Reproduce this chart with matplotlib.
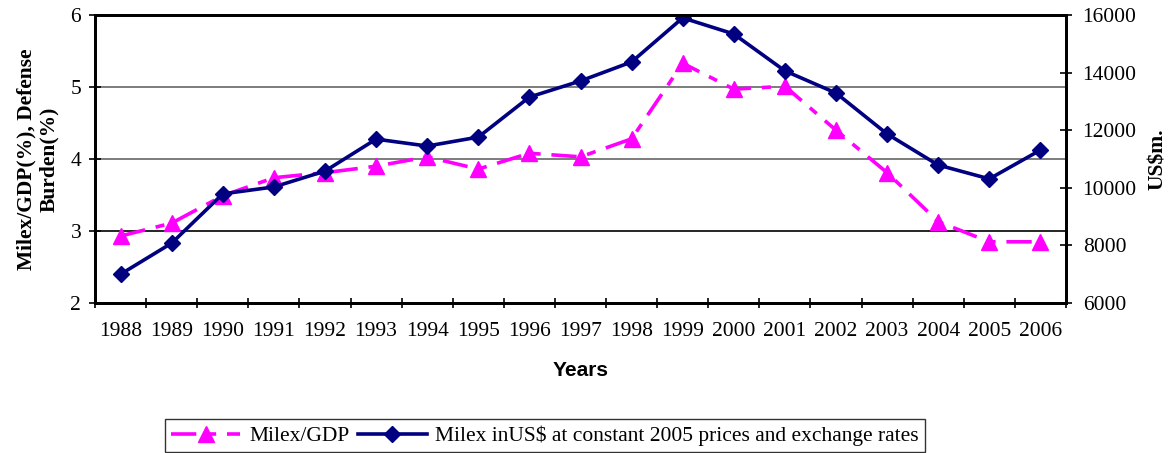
import matplotlib.pyplot as plt
import numpy as np

# Data
years = ['1988', '1989', '1990', '1991', '1992', '1993', '1994', '1995', '1996', '1997',
         '1998', '1999', '2000', '2001', '2002', '2003', '2004', '2005', '2006']
milex_gdp = [2.93, 3.11, 3.49, 3.74, 3.81, 3.90, 4.03, 3.86, 4.08, 4.03,
             4.28, 5.33, 4.97, 5.01, 4.40, 3.81, 3.13, 2.85, 2.85]
milex_usd = [7000, 8080, 9790, 10030, 10580, 11690, 11450, 11760, 13150, 13710,
             14370, 15900, 15340, 14060, 13290, 11870, 10790, 10310, 11310]

serif = ['Liberation Serif', 'DejaVu Serif']
sans = ['Liberation Sans', 'DejaVu Sans']
pink = '#FF00FF'
navy = '#000080'


def run():
    plt.rcParams['font.family'] = serif
    fig = plt.figure(figsize=(11.75, 4.53), dpi=100)
    ax = fig.add_axes([0.0809, 0.3311, 0.9072 - 0.0809, 0.9669 - 0.3311])
    ax2 = ax.twinx()

    x = np.arange(len(years))

    # Gridlines on left axis
    ax.axhline(3, color='black', linewidth=1.2, zorder=0)
    for g in [4, 5]:
        ax.axhline(g, color='#666666', linewidth=1.2, zorder=0)

    l1, = ax.plot(x, milex_gdp, color=pink, linewidth=2.6,
                  linestyle=(0, (7, 3, 2.5, 3)), marker='^', markersize=12,
                  markeredgecolor=pink, markerfacecolor=pink, label='Milex/GDP')
    l2, = ax2.plot(x, milex_usd, color=navy, linewidth=2.6, marker='D',
                   markersize=8, markeredgecolor=navy, markerfacecolor=navy,
                   label='Milex inUS$ at constant 2005 prices and exchange rates')

    ax.set_xlim(-0.5, len(years) - 0.5)
    ax.set_ylim(2, 6)
    ax.set_yticks([2, 3, 4, 5, 6])
    ax2.set_ylim(6000, 16000)
    ax2.set_yticks(np.arange(6000, 16001, 2000))

    # Category labels at centers, tick marks at boundaries
    ax.set_xticks(x)
    ax.set_xticklabels(years)
    ax.set_xticks(np.arange(-0.5, len(years), 1), minor=True)
    ax.tick_params(axis='x', which='major', length=0, labelsize=15.5, pad=14)
    ax.tick_params(axis='x', which='minor', length=7, width=1.2, direction='inout')
    ax.tick_params(axis='y', labelsize=15.5, length=8, width=1.2, direction='inout', pad=6)
    ax2.tick_params(axis='y', labelsize=15.5, length=8, width=1.2, direction='inout', pad=8)

    for a in (ax, ax2):
        for s in a.spines.values():
            s.set_linewidth(2)
            s.set_color('black')

    ax.set_xlabel('Years', fontsize=15, fontweight='bold', family=sans, labelpad=14)
    ax.set_ylabel('Milex/GDP(%), Defense\nBurden(%)', fontsize=15.5,
                  fontweight='bold', labelpad=8)
    ax2.set_ylabel('US$m.', fontsize=15.5, fontweight='bold', labelpad=8)

    leg = fig.legend(handles=[l1, l2], loc='center', bbox_to_anchor=(0.464, 0.038),
                     ncol=2, fontsize=15.5, frameon=True, fancybox=False,
                     handlelength=3.2, columnspacing=0.4, handletextpad=0.4,
                     borderpad=0.3, borderaxespad=0)
    leg.get_frame().set_edgecolor('black')
    leg.get_frame().set_linewidth(1.0)

    fig.savefig('out.png', dpi=100)


if __name__ == '__main__':
    run()
